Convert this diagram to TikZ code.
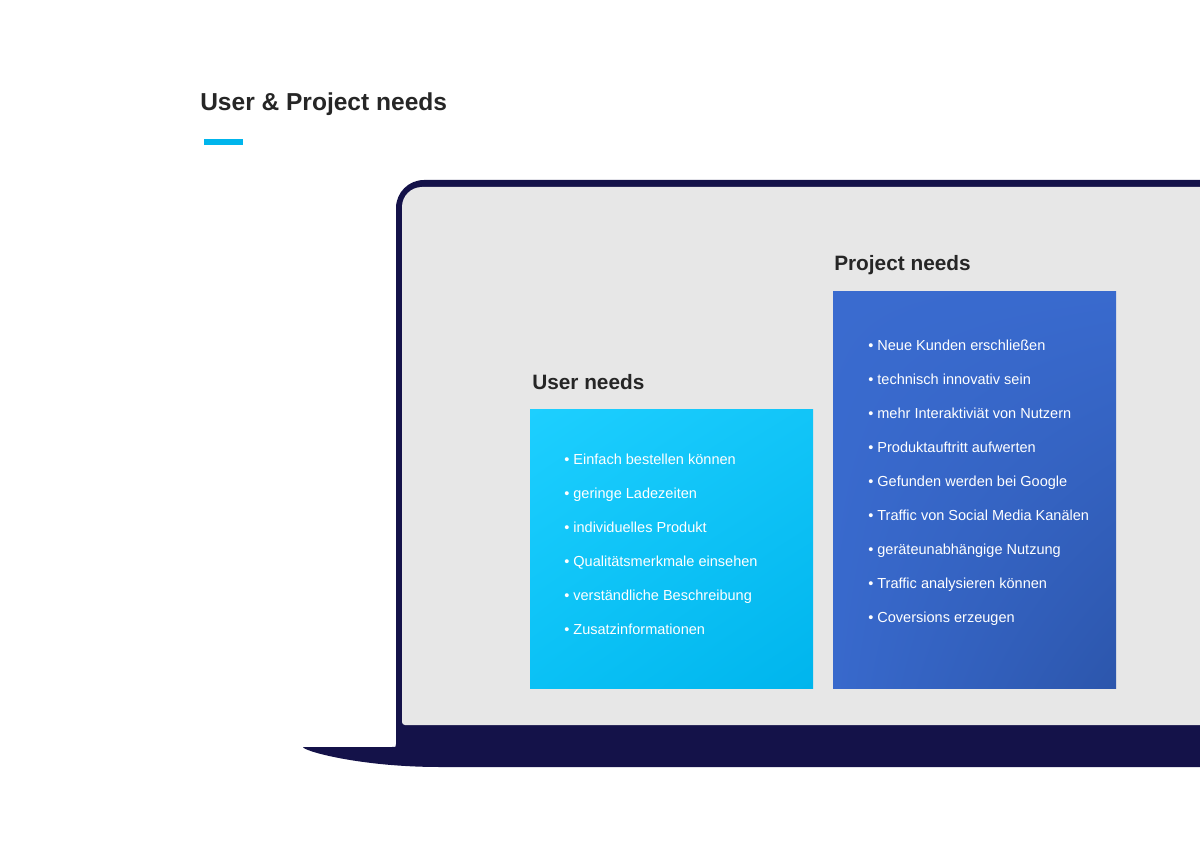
\documentclass[tikz,border=0pt]{standalone}
\usepackage{fontspec}
\usetikzlibrary{shadings}
\setmainfont{Liberation Sans}
\definecolor{navy}{HTML}{141249}
\definecolor{screen}{HTML}{E7E7E7}
\definecolor{ink}{HTML}{262626}
\definecolor{accent}{HTML}{00B5EC}
\definecolor{uUL}{HTML}{1DCFFF}
\definecolor{uUR}{HTML}{12C5F8}
\definecolor{uLL}{HTML}{0AC1F5}
\definecolor{uLR}{HTML}{00B5ED}
\definecolor{pUL}{HTML}{3A6BCF}
\definecolor{pUR}{HTML}{396ACE}
\definecolor{pLL}{HTML}{3869CC}
\definecolor{pLR}{HTML}{2C56AC}
\tikzset{
  title/.style={anchor=base west, inner sep=0pt, text=ink, font=\fontsize{18.4pt}{22pt}\selectfont\bfseries},
  heading/.style={anchor=base west, inner sep=0pt, text=ink, font=\fontsize{15.6pt}{19pt}\selectfont\bfseries},
  item/.style={anchor=base west, inner sep=0pt, text=white, font=\fontsize{10.9pt}{13pt}\selectfont},
  userbox/.style={shade, upper left=uUL, upper right=uUR, lower left=uLL, lower right=uLR, minimum width=212.25pt, minimum height=209.25pt, inner sep=0pt},
  projbox/.style={shade, upper left=pUL, upper right=pUR, lower left=pLL, lower right=pLR, minimum width=212.25pt, minimum height=297.75pt, inner sep=0pt}
}
\begin{document}
\begin{tikzpicture}[x=0.75pt, y=-0.75pt]
\useasboundingbox (0,0) rectangle (1200,845);
\fill[white] (0,0) rectangle (1200,845);
% title
\node[title] (t) at (200,111) {User \& Project needs};
\fill[accent] (204,139) rectangle (243,145);
% laptop frame
\fill[navy] (1200,180) -- (424,180) arc[start angle=270, end angle=180, radius=28]
  -- (396,744) .. controls (396,747) .. (392,747) -- (303,747)
  .. controls (303,751) and (360,767) .. (440,767) -- (1200,767) -- cycle;
\fill[screen] (1200,187) -- (422,187) arc[start angle=270, end angle=180, radius=20]
  -- (402,722) arc[start angle=180, end angle=90, radius=3] -- (1200,725) -- cycle;
% boxes
\node[userbox] (ub) at (671.5,548.5) {};
\node[projbox] (pb) at (974.5,489.5) {};
\node[heading] (uh) at (532,389) {User needs};
\node[heading] (ph) at (834,270) {Project needs};
% user items
\node[item] (u1) at (564,464) {• Einfach bestellen können};
\node[item] (u2) at (564,498) {• geringe Ladezeiten};
\node[item] (u3) at (564,532) {• individuelles Produkt};
\node[item] (u4) at (564,566) {• Qualitätsmerkmale einsehen};
\node[item] (u5) at (564,600) {• verständliche Beschreibung};
\node[item] (u6) at (564,634) {• Zusatzinformationen};
% project items
\node[item] (p1) at (868,350) {• Neue Kunden erschließen};
\node[item] (p2) at (868,384) {• technisch innovativ sein};
\node[item] (p3) at (868,418) {• mehr Interaktiviät von Nutzern};
\node[item] (p4) at (868,452) {• Produktauftritt aufwerten};
\node[item] (p5) at (868,486) {• Gefunden werden bei Google};
\node[item] (p6) at (868,520) {• Traffic von Social Media Kanälen};
\node[item] (p7) at (868,554) {• geräteunabhängige Nutzung};
\node[item] (p8) at (868,588) {• Traffic analysieren können};
\node[item] (p9) at (868,622) {• Coversions erzeugen};
\end{tikzpicture}
\end{document}
